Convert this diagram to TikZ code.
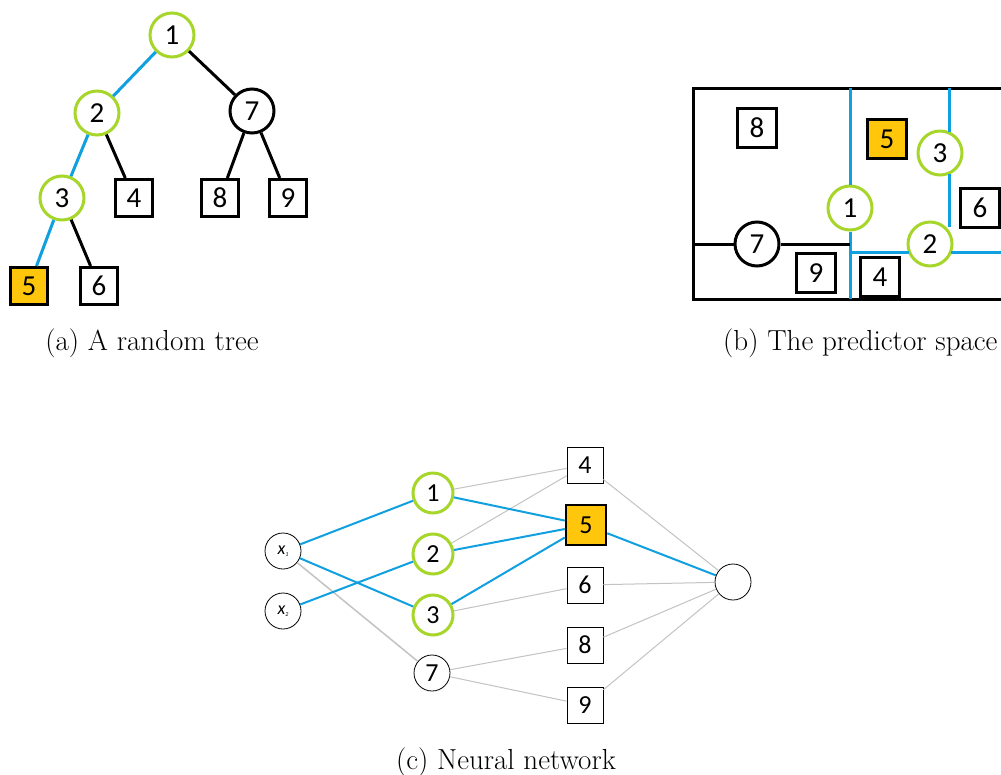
\documentclass[tikz,border=0pt]{standalone}
\usepackage{fontspec}
\newfontfamily\calfont{Carlito}
\definecolor{lgreen}{RGB}{166,214,42}
\definecolor{lblue}{RGB}{16,160,224}
\definecolor{gold}{RGB}{255,198,12}
\definecolor{lgray}{RGB}{195,195,195}
\tikzset{
  gc/.style={circle, draw=lgreen, line width=3pt, minimum size=44pt, inner sep=0pt, fill=white, font=\calfont\fontsize{29}{29}\selectfont},
  kc/.style={gc, draw=black},
  sq/.style={rectangle, draw=black, line width=3pt, minimum size=37pt, inner sep=0pt, fill=white, font=\calfont\fontsize{29}{29}\selectfont},
  hl/.style={fill=gold},
  bl/.style={draw=lblue, line width=3pt},
  kl/.style={draw=black, line width=3pt},
  nc/.style={circle, draw=black, line width=0.8pt, minimum size=36pt, inner sep=0pt, fill=white, font=\calfont\fontsize{26}{26}\selectfont},
  ngc/.style={circle, draw=lgreen, line width=3pt, minimum size=40pt, inner sep=0pt, fill=white, font=\calfont\fontsize{26}{26}\selectfont},
  nsq/.style={rectangle, draw=black, line width=0.8pt, minimum size=36pt, inner sep=0pt, fill=white, font=\calfont\fontsize{26}{26}\selectfont},
  ng/.style={draw=lgray, line width=1pt},
  nb/.style={draw=lblue, line width=2pt},
  captxt/.style={font=\fontsize{29}{34}\selectfont, inner sep=0pt},
}
\newcommand{\xin}[1]{{\calfont\fontsize{18}{18}\selectfont\itshape x\raisebox{-2pt}{\fontsize{6}{6}\selectfont #1}}}
\begin{document}
\begin{tikzpicture}[x=1pt,y=-1pt]
\clip (0,0) rectangle (1001,774);
\fill[white] (0,0) rectangle (1001,774);
% ---------- (a) tree ----------
\node[gc] (t1) at (172,35) {1};
\node[gc] (t2) at (97,113) {2};
\node[kc] (t7) at (252,111) {7};
\node[gc] (t3) at (62,198) {3};
\node[sq] (t4) at (134,198) {4};
\node[sq] (t8) at (220,198) {8};
\node[sq] (t9) at (288,198) {9};
\node[sq,hl] (t5) at (29,286) {5};
\node[sq] (t6) at (99,286) {6};
\draw[bl] (t1) -- (t2);
\draw[bl] (t2) -- (t3);
\draw[bl] (t3) -- (t5);
\draw[kl] (t1) -- (t7);
\draw[kl] (t2) -- (t4);
\draw[kl] (t3) -- (t6);
\draw[kl] (t7) -- (t8);
\draw[kl] (t7) -- (t9);
\node[captxt] (capa) at (152,343) {(a) A random tree};
% ---------- (b) predictor space ----------
\coordinate (bTL) at (693,88);
\coordinate (bBR) at (1012,299);
\draw[line width=3pt] (bTL) rectangle (bBR);
\coordinate (v1top) at (850,88);
\coordinate (v1bot) at (850,299);
\coordinate (v2top) at (949,88);
\coordinate (v2a) at (949,132);
\coordinate (v2b) at (949,174);
\coordinate (v2c) at (949,227);
\coordinate (h1a) at (850,252);
\coordinate (h1b) at (909,252);
\coordinate (h1c) at (951,252);
\coordinate (h1d) at (1012,252);
\coordinate (k1a) at (693,244);
\coordinate (k1b) at (850,244);
\node[gc] (p1) at (850,208) {1};
\node[gc] (p3) at (940,153) {3};
\node[gc] (p2) at (930,244) {2};
\node[kc] (p7) at (757,244) {7};
\draw[bl] (v1top) -- (p1);
\draw[bl] (p1) -- (v1bot);
\draw[bl] (v2top) -- (v2a);
\draw[bl] (v2b) -- (v2c);
\draw[bl] (h1a) -- (h1b);
\draw[bl] (h1c) -- (h1d);
\draw[kl] (k1a) -- (p7);
\draw[kl] (p7) -- (k1b);
\node[sq, minimum size=39pt] (p8) at (757,128) {8};
\node[sq, minimum size=39pt, hl] (p5) at (887,139) {5};
\node[sq, minimum size=39pt] (p6) at (980,208) {6};
\node[sq, minimum size=39pt] (p9) at (816,273) {9};
\node[sq, minimum size=39pt] (p4) at (880,277) {4};
\node[captxt, anchor=west] (capb) at (723,343) {(b) The predictor space};
% ---------- (c) neural network ----------
\node[nc] (x1) at (283,551) {\xin{1}};
\node[nc] (x2) at (283,611) {\xin{2}};
\node[ngc] (n1) at (433,493) {1};
\node[ngc] (n2) at (433,554) {2};
\node[ngc] (n3) at (433,615) {3};
\node[nc] (n7) at (432,673) {7};
\node[nsq] (n4) at (585,465) {4};
\node[nsq, line width=2.5pt, minimum size=40pt, hl] (n5) at (586,525) {5};
\node[nsq] (n6) at (585,585) {6};
\node[nsq] (n8) at (585,645) {8};
\node[nsq] (n9) at (585,705) {9};
\node[nc] (out) at (733,582) {};
\draw[ng, line width=1.5pt] (x1) -- (n7);
\draw[ng] (n1) -- (n4);
\draw[ng] (n2) -- (n4);
\draw[ng] (n3) -- (n6);
\draw[ng] (n7) -- (n8);
\draw[ng] (n7) -- (n9);
\draw[ng] (n4) -- (out);
\draw[ng] (n6) -- (out);
\draw[ng] (n8) -- (out);
\draw[ng] (n9) -- (out);
\draw[nb] (x1) -- (n1);
\draw[nb] (x1) -- (n3);
\draw[nb] (x2) -- (n2);
\draw[nb] (n1) -- (n5);
\draw[nb] (n2) -- (n5);
\draw[nb] (n3) -- (n5);
\draw[nb] (n5) -- (out);
\node[captxt] (capc) at (506,762) {(c) Neural network};
\end{tikzpicture}
\end{document}
